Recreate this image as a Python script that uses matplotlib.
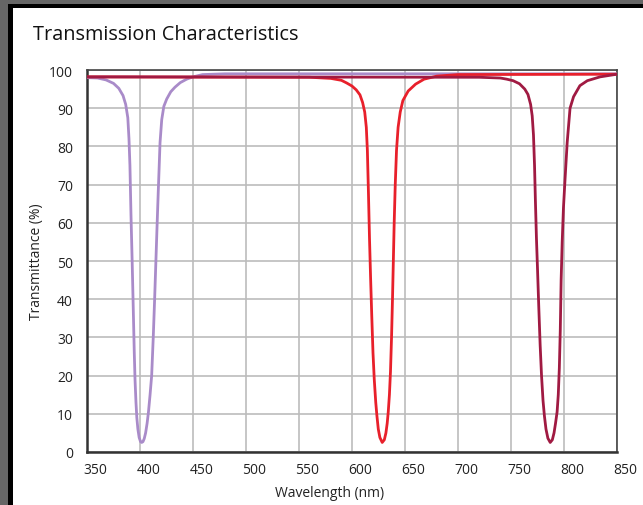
import numpy as np
import matplotlib.pyplot as plt
import matplotlib.transforms as mtransforms
from matplotlib.patches import Rectangle

plt.rcParams['font.family'] = ['Open Sans', 'DejaVu Sans']

# violet notch filter (~401 nm)
violet_nm = [350, 360, 368, 375, 380, 384, 386.5, 388.5, 389.6, 390.5, 391.5, 392.6,
             393.6, 394.6, 395.3, 396.2, 397, 398, 399.2, 400.5, 401.6, 402.8, 404,
             405.3, 406.7, 408, 409.5, 411, 412.5, 413.8, 415, 416.2, 417.2, 418,
             418.9, 420.5, 422.5, 425.2, 429, 433, 438, 444, 450, 459, 480, 600, 850]
violet_t = [98.0, 97.9, 97.4, 96.5, 95.2, 93.3, 91.0, 87.5, 82, 75, 62, 50,
            38, 26, 19, 13, 9, 6, 3.8, 2.7, 2.5, 2.7, 3.5,
            5, 7.5, 10.5, 15, 20, 30, 40, 50, 60, 68, 74,
            81, 87, 90.5, 92.4, 94.3, 95.5, 96.7, 97.6, 98.2, 98.8, 99.0, 99.0, 99.0]

# red notch filter (~628 nm)
red_nm = [350, 560, 580, 590, 595, 600, 604, 607.5, 610, 612, 613.5, 614.5, 615.5,
          616.5, 617.5, 618.6, 619.8, 621, 622.4, 623.5, 624.8, 626.3, 628.5, 630.5,
          632, 633.2, 634.2, 635.3, 636.3, 637.3, 638.2, 639, 639.8, 640.8, 642,
          643.5, 645.5, 648, 653, 660, 668, 680, 700, 850]
red_t = [98.2, 98.1, 97.8, 97.3, 96.6, 95.8, 94.8, 93.5, 91.5, 89, 85, 79, 68,
         56, 46, 36, 26, 19, 13, 9.5, 6, 3.8, 2.5, 3.2,
         5, 7.5, 10.5, 15, 21, 30, 40, 50, 60, 70, 79,
         85, 89, 92, 94.5, 96.3, 97.6, 98.4, 98.8, 98.9]

# near-IR notch filter (~787 nm)
nir_nm = [350, 720, 740, 746, 752, 758, 763, 766, 768.5, 770, 771.2, 772.2, 773, 774,
          775, 776.2, 777.5, 778.8, 780.2, 781.5, 783, 784.8, 787, 789, 790.6, 792,
          793.5, 794.6, 795.6, 796.5, 797.3, 798.3, 799.5, 801, 803, 805.7, 809,
          815, 822, 834, 850]
nir_t = [98.2, 98.1, 97.9, 97.6, 97.2, 96.4, 95.0, 93.6, 91, 88, 83, 75, 66, 56,
         48, 38, 28, 20, 13.5, 9.5, 6, 3.6, 2.5, 3.2, 5, 7.5,
         10.5, 15, 22, 32, 45, 55, 64, 71.5, 81, 90, 93,
         95.9, 97.2, 98.2, 98.9]

xticks = [350, 400, 450, 500, 550, 600, 650, 700, 750, 800, 850]
yticks = [0, 10, 20, 30, 40, 50, 60, 70, 80, 90, 100]

W, H = 643, 506
fig = plt.figure(figsize=(W / 100, H / 100), dpi=100, facecolor='#666666')
# frame: black edge then white panel
fig.patches.append(Rectangle((8 / W, 0), 1, 1 - 5 / H, transform=fig.transFigure,
                             facecolor='black', edgecolor='none', zorder=-2))
fig.patches.append(Rectangle((12.5 / W, 0), 1, 1 - 9 / H, transform=fig.transFigure,
                             facecolor='white', edgecolor='none', zorder=-1))

ax = fig.add_axes([87 / W, 1 - 453 / H, 530 / W, 382 / H])
ax.set_facecolor('white')

ax.plot(violet_nm, violet_t, color='#a98bc9', lw=2.0, solid_capstyle='butt', zorder=3)
ax.plot(red_nm, red_t, color='#e8202b', lw=2.0, solid_capstyle='butt', zorder=4)
ax.plot(nir_nm, nir_t, color='#a01a42', lw=2.0, solid_capstyle='butt', zorder=5)

ax.set_xlim(350, 850)
ax.set_ylim(0, 100)
ax.set_xticks(xticks)
ax.set_yticks(yticks)
ax.grid(True, color='#bcbcbc', lw=1.2)
ax.set_axisbelow(True)
ax.tick_params(length=0, labelsize=10, colors='#222222', pad=7)
ax.tick_params(axis='y', pad=10)

offset = mtransforms.ScaledTranslation(8.5 / 100, 0, fig.dpi_scale_trans)
for lab in ax.get_xticklabels():
    lab.set_transform(lab.get_transform() + offset)

for side in ['left', 'bottom']:
    ax.spines[side].set_linewidth(1.8)
    ax.spines[side].set_color('#333333')
for side in ['top', 'right']:
    ax.spines[side].set_linewidth(1.2)
    ax.spines[side].set_color('#444444')

ax.set_xlabel('Wavelength (nm)', fontsize=10, color='#222222')
ax.xaxis.set_label_coords(0.457, -0.087)
ax.set_ylabel('Transmittance (%)', fontsize=10, color='#222222')
ax.yaxis.set_label_coords(-0.081, 0.5)

fig.text(33 / W, 1 - 35 / H, 'Transmission Characteristics', fontsize=14.3,
         color='#111111', ha='left', va='center')

fig.savefig('out.png', dpi=100, facecolor=fig.get_facecolor())
